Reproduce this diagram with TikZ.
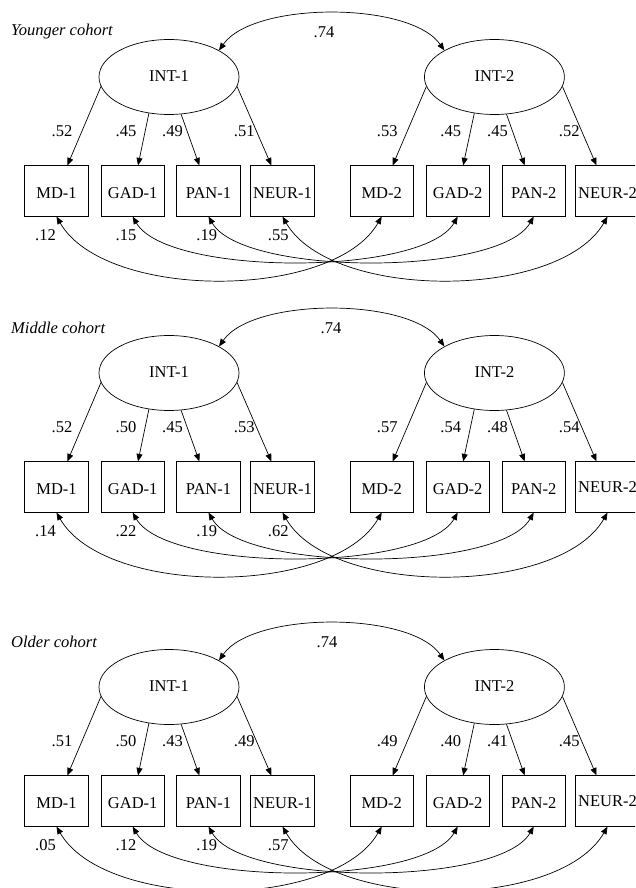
\documentclass[tikz,border=0pt]{standalone}
\usepackage{fontspec}
\setmainfont{Liberation Serif}
\usetikzlibrary{shapes.geometric,arrows.meta}
\begin{document}
\begin{tikzpicture}[x=1pt,y=1pt,
  font=\fontsize{16.5}{19}\selectfont,
  lv/.style={ellipse,draw,line width=0.7pt,minimum width=140pt,minimum height=75pt,inner sep=0pt,text height=9.8pt,text depth=0pt},
  obs/.style={rectangle,draw,line width=0.7pt,minimum width=63.5pt,minimum height=50.5pt,inner sep=0pt,text height=15.7pt,text depth=0pt},
  tip/.tip={Triangle[length=7.5pt,width=6pt]},
  ld/.style={line width=0.7pt,-tip},
  cv/.style={line width=0.7pt,tip-tip},
  lab/.style={inner sep=0pt},
  ttl/.style={font=\fontsize{16.5}{19}\selectfont\itshape,anchor=west,inner sep=0pt}
]
\useasboundingbox (0,0) rectangle (635,-888);
\clip (0,0) rectangle (635,-888);
\foreach \pid/\yo/\ttl/\cx/\nh/\LA/\LB/\LC/\LD/\LE/\LF/\LG/\LH/\RA/\RB/\RC/\RD in {
 a/0/{Younger cohort}/324/15.7/.52/.45/.49/.51/.53/.45/.45/.52/.12/.15/.19/.55,
 b/296/{Middle cohort}/331/10.7/.52/.50/.45/.53/.57/.54/.48/.54/.14/.22/.19/.62,
 c/610/{Older cohort}/327/10.7/.51/.50/.43/.49/.49/.40/.41/.45/.05/.12/.19/.57}{
\begin{scope}[shift={(0,-\yo)}]
 \node[ttl] (\pid-title) at (11,-31.5) {\ttl};
 \node[lv] (\pid-int1) at (169,-77) {INT-1};
 \node[lv] (\pid-int2) at (494.4,-77) {INT-2};
 \node[obs] (\pid-md1) at (56.5,-191) {MD-1};
 \node[obs] (\pid-gad1) at (132.7,-191) {GAD-1};
 \node[obs] (\pid-pan1) at (208.5,-191) {PAN-1};
 \node[obs] (\pid-neur1) at (282.5,-191) {NEUR-1};
 \node[obs] (\pid-md2) at (381.7,-191) {MD-2};
 \node[obs] (\pid-gad2) at (457.7,-191) {GAD-2};
 \node[obs] (\pid-pan2) at (533.7,-191) {PAN-2};
 \node[obs,text height=\nh pt] (\pid-neur2) at (607.5,-191) {NEUR-2};
 % loadings
 \draw[ld] (\pid-int1.188) -- (\pid-md1);
 \draw[ld] (\pid-int1.241) -- (\pid-gad1);
 \draw[ld] (\pid-int1.288) -- (\pid-pan1);
 \draw[ld] (\pid-int1.352) -- (\pid-neur1);
 \draw[ld] (\pid-int2.188) -- (\pid-md2);
 \draw[ld] (\pid-int2.241) -- (\pid-gad2);
 \draw[ld] (\pid-int2.288) -- (\pid-pan2);
 \draw[ld] (\pid-int2.352) -- (\pid-neur2);
 \node[lab] (\pid-la) at (62,-131.2) {\LA};
 \node[lab] (\pid-lb) at (126,-131.2) {\LB};
 \node[lab] (\pid-lc) at (172.5,-131.2) {\LC};
 \node[lab] (\pid-ld) at (244.3,-131.2) {\LD};
 \node[lab] (\pid-le) at (387.3,-131.2) {\LE};
 \node[lab] (\pid-lf) at (450.7,-131.2) {\LF};
 \node[lab] (\pid-lg) at (497.5,-131.2) {\LG};
 \node[lab] (\pid-lh) at (569.3,-131.2) {\LH};
 % latent correlation
 \draw[cv] (\pid-int1.28) .. controls +(55:60) and +(125:60) .. (\pid-int2.152);
 \node[lab] (\pid-cov) at (\cx,-32) {.74};
 % residual correlations
 \draw[cv] (\pid-md1.south) .. controls +(-60:97) and +(-120:97) .. (\pid-md2.south);
 \draw[cv] (\pid-gad1.south) .. controls +(-60:69) and +(-120:69) .. (\pid-gad2.south);
 \draw[cv] (\pid-pan1.south) .. controls +(-60:69) and +(-120:69) .. (\pid-pan2.south);
 \draw[cv] (\pid-neur1.south) .. controls +(-60:97) and +(-120:97) .. (\pid-neur2.south);
 \node[lab] (\pid-ra) at (45.5,-235.3) {\RA};
 \node[lab] (\pid-rb) at (126,-235.3) {\RB};
 \node[lab] (\pid-rc) at (206.7,-235.3) {\RC};
 \node[lab] (\pid-rd) at (278.3,-235.3) {\RD};
\end{scope}}
\end{tikzpicture}
\end{document}
